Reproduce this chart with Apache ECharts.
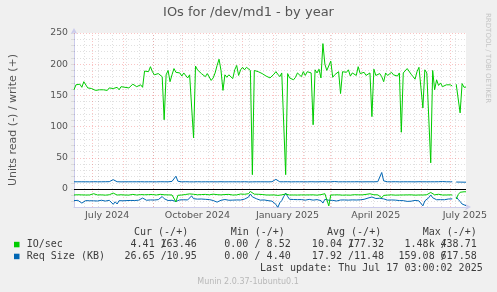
<!DOCTYPE html>
<html><head><meta charset="utf-8">
<script src="https://cdn.jsdelivr.net/npm/echarts@6/dist/echarts.min.js"></script>
<style>html,body{margin:0;padding:0;background:#f0f0f0}#c{width:497px;height:292px}</style>
</head><body><div id="c"></div>
<script>
// ---- data ----
const startTime = '2024-06-12T03:00:00';
const endTime = '2025-07-17T03:00:00';
const stepDays = 2;
const writeIO = [
159,167,165,168,163,172,175,162,163,161,
159,158,161,159,156,159,157,158,162,163,
161,161,163,159,164,162,163,165,162,161,
168,167,164,166,167,163,189,190,188,196,
188,183,180,185,186,180,111,183,190,172,
183,193,187,187,186,181,186,189,178,183,
186,82,197,191,188,185,182,180,185,187,
174,178,186,198,208,190,158,183,179,183,
181,177,191,198,182,191,195,191,195,192,
190,23,190,189,188,186,185,183,181,180,
178,180,184,188,184,180,186,184,23,185,
178,180,175,179,186,185,180,188,182,188,
190,186,103,191,186,192,178,233,200,190,
188,205,179,183,186,188,153,188,187,187,
191,181,186,183,182,196,185,185,187,182,
184,186,116,192,182,180,185,180,172,186,
182,184,187,183,186,181,186,91,186,187,
193,190,184,180,176,188,195,196,130,191,
186,189,42,190,159,175,166,170,164,165,
167,168,167,165,null,168,165,122,169,163,
163.46];
const writeReq = [
11.6,11.7,11.6,11.5,11.6,11.7,11.6,11.6,11.5,11.6,
11.7,11.6,11.6,11.5,11.6,11.6,11.7,11.6,11.8,12.4,
15.0,12.0,11.7,11.6,11.5,11.6,11.6,11.5,11.6,11.7,
11.6,11.5,11.6,11.6,11.7,11.6,11.5,11.6,11.6,11.7,
11.6,11.6,11.5,11.6,11.7,11.6,11.6,11.5,11.6,11.8,
12.2,13.5,20.5,12.5,11.6,11.5,11.6,11.7,11.6,11.5,
11.6,11.5,11.6,11.7,11.6,11.5,11.6,11.6,11.7,11.6,
11.5,11.6,11.6,11.5,11.6,11.7,11.6,11.5,11.6,11.6,
11.7,11.6,11.5,11.6,11.6,11.5,11.6,11.7,11.6,11.4,
11.2,11.5,11.6,11.6,11.5,11.6,11.7,11.6,11.6,11.5,
11.6,11.7,12.2,15.5,12.3,11.6,11.5,11.6,11.6,11.7,
11.6,11.5,11.6,11.6,11.7,11.6,11.5,11.6,11.6,11.5,
11.6,11.7,11.6,11.5,11.6,11.6,11.7,11.8,11.6,11.5,
11.6,11.6,11.7,12.0,11.6,11.5,11.6,11.6,11.5,11.6,
11.7,11.6,11.5,11.6,11.6,11.7,11.6,11.5,11.6,11.6,
11.5,11.6,11.7,11.6,11.6,11.8,12.5,26.5,13.0,11.7,
11.6,11.5,11.6,11.6,11.7,11.6,11.5,11.6,11.6,11.7,
11.6,11.5,11.6,11.6,11.5,11.6,11.7,11.6,11.6,11.5,
11.6,11.7,11.6,11.5,11.6,11.6,11.7,11.8,12.0,11.7,
11.6,11.5,11.6,11.6,null,11.2,11.0,11.1,11.0,10.95,
10.95];
const readIO = [
9.5,9.8,9.2,9.6,9.4,9.0,9.6,9.3,9.5,8.2,
7.5,8.8,9.5,9.7,9.3,9.6,9.8,9.4,9.2,7.0,
6.5,9.0,9.6,9.5,9.2,9.4,9.6,9.3,9.7,9.1,
8.6,9.4,9.6,9.2,8.9,8.0,9.2,9.5,9.0,9.3,
8.8,9.4,9.6,9.2,8.5,7.5,9.2,9.6,9.4,9.1,
9.5,10.5,20.5,10.0,9.3,9.6,9.0,8.7,9.4,7.8,
6.5,8.4,7.0,9.2,6.8,8.9,6.2,8.6,7.4,9.3,
6.5,8.2,7.2,9.0,7.6,9.4,6.9,8.8,9.5,8.6,
9.3,9.6,8.5,9.4,9.2,8.0,9.0,8.4,9.2,7.5,
4.0,6.0,8.2,8.8,8.4,9.0,8.8,9.3,9.5,9.2,
9.6,9.8,9.4,9.9,10.2,9.6,9.3,9.5,8.0,9.4,
9.6,9.2,9.5,9.8,9.6,9.0,9.4,9.7,9.5,9.1,
9.4,9.6,9.3,9.5,9.8,9.4,9.0,8.2,7.5,6.8,
27.0,9.6,9.2,9.4,9.7,9.3,9.5,9.8,9.2,9.6,
9.4,9.8,9.5,9.1,9.6,9.3,9.8,9.4,9.0,8.6,
8.1,7.6,8.4,9.2,9.5,9.3,9.6,14.0,10.2,9.4,
9.7,9.5,9.3,9.6,9.8,9.4,9.6,9.2,9.5,9.7,
9.4,9.6,9.3,9.6,9.8,9.4,9.5,9.2,9.6,9.4,
9.1,8.0,5.5,8.6,9.3,9.5,8.4,9.3,9.6,9.4,
9.5,9.6,9.4,9.5,null,16.0,9.0,5.2,4.6,4.4,
4.41];
const readReq = [
18.5,19.0,18.2,19.5,22.5,19.8,18.6,18.2,18.8,17.5,
18.9,18.4,19.2,18.6,18.0,18.7,19.3,18.5,18.1,17.0,
24.5,20.5,24.0,18.6,18.2,18.9,17.8,18.5,19.0,18.3,
17.6,18.4,18.8,17.9,16.5,14.5,17.2,18.0,18.6,17.5,
18.2,17.6,18.3,17.0,15.0,12.0,15.5,17.8,18.4,17.6,
18.0,18.5,20.0,18.2,17.4,18.0,17.2,16.8,17.5,15.0,
11.0,15.5,17.0,16.2,17.5,16.0,17.2,16.5,17.8,16.9,
17.5,18.4,19.2,21.0,22.0,18.0,17.2,16.8,17.5,18.0,
17.2,17.8,18.2,17.5,16.8,17.6,17.0,16.2,14.0,13.0,
8.0,12.5,13.5,15.5,17.0,17.8,18.2,17.5,18.0,18.6,
19.0,19.4,20.5,24.5,29.5,22.0,18.5,12.0,6.5,12.0,
16.5,17.2,16.8,17.4,17.0,17.6,16.9,17.2,17.8,17.0,
16.6,17.3,17.8,17.2,17.0,17.5,18.5,22.5,16.5,17.0,
18.0,17.4,18.2,20.0,19.2,18.0,17.6,18.2,17.5,17.2,
17.8,18.2,17.4,17.0,17.6,18.0,17.3,17.8,16.5,15.8,
14.5,13.5,12.8,14.0,15.2,15.0,14.8,14.5,15.8,17.0,
17.8,18.2,17.5,17.0,17.8,18.2,18.5,18.0,18.6,19.2,
19.8,20.2,19.5,18.8,18.2,18.6,19.0,22.0,27.0,19.0,
17.5,14.0,9.5,14.0,16.5,17.2,17.8,17.0,16.8,17.2,
16.5,16.0,16.4,15.8,null,12.5,16.5,20.0,24.0,26.0,
26.65];
const monthStarts = ['2024-07-01','2024-08-01','2024-09-01','2024-10-01','2024-11-01','2024-12-01',
  '2025-01-01','2025-02-01','2025-03-01','2025-04-01','2025-05-01','2025-06-01','2025-07-01'];
const minorGridStart = '2024-06-23';
const minorGridStepDays = 14;
const xLabelDates = ['2024-07-16','2024-10-16','2025-01-16','2025-04-16','2025-07-16'];
const xLabels = ['July 2024','October 2024','January 2025','April 2025','July 2025'];
const yMin = -28.8, yMax = 250;
const yLabels = [0,50,100,150,200,250];
const yMinorStep = 10;
const legendNames = ['IO/sec','Req Size (KB)'];
const legendHeaders = ['Cur (-/+)','Min (-/+)','Avg (-/+)','Max (-/+)'];
const legendValues = [
  [['4.41 /','163.46'],['0.00 /','8.52'],['10.04 /','177.32'],['1.48k /','438.71']],
  [['26.65 /','10.95'],['0.00 /','4.40'],['17.92 /','11.48'],['159.08 /','617.58']]
];
const lastUpdate = 'Last update: Thu Jul 17 03:00:02 2025';
const footer = 'Munin 2.0.37-1ubuntu0.1';
const sideText = 'RRDTOOL / TOBI OETIKER';
const titleText = 'IOs for /dev/md1 - by year';
const yName = 'Units read (-) / write (+)';

// ---- build ----
const ts = s => new Date(s.length === 10 ? s + 'T00:00:00' : s).getTime();
const DAY = 86400000;
const t0 = ts(startTime), t1 = ts(endTime);
const dayOf = s => (ts(s) - t0) / DAY;          // x position in days since start
const xMax = (t1 - t0) / DAY;
const xs = writeIO.map((_, i) => i * stepDays);
const neg = v => (v == null ? null : -v);
const pos = v => v;

const minorX = [];
for (let d = dayOf(minorGridStart); d < xMax; d += minorGridStepDays) minorX.push(d);
const minorY = [];
for (let v = -20; v < yMax; v += yMinorStep) if (v % 50 !== 0) minorY.push(v);
const allY = minorY.concat(yLabels).sort((a,b)=>a-b);
const labelPos = xLabelDates.map(dayOf);

const GREEN = '#00cc00', BLUE = '#0066b3';
const RED_GRID = 'rgba(240,60,60,0.30)', GRAY_GRID = 'rgba(0,0,0,0.12)';

function lineSeries(arr, fn, color) {
  return {
    type: 'line', data: xs.map((x, i) => [x, fn(arr[i])]),
    showSymbol: false, symbol: 'none', connectNulls: false, z: 3,
    lineStyle: { color, width: 1 }, itemStyle: { color },
    emphasis: { disabled: true }, silent: true, animation: false
  };
}

const gridLines = [];
minorX.forEach(d => gridLines.push({ xAxis: d, lineStyle: { color: GRAY_GRID, type: [1, 2], width: 1 } }));
minorY.forEach(v => gridLines.push({ yAxis: v, lineStyle: { color: GRAY_GRID, type: [1, 2], width: 1 } }));
monthStarts.forEach(s => gridLines.push({ xAxis: dayOf(s), lineStyle: { color: RED_GRID, type: [1, 2], width: 1 } }));
yLabels.forEach(v => { if (v !== 0) gridLines.push({ yAxis: v, lineStyle: { color: RED_GRID, type: [1, 2], width: 1 } }); });

const MONO = '10px "DejaVu Sans Mono"';
const TXT = '#3c3c3c';
const graphics = [];
function txt(x, y, text, align, font, fill, extra) {
  graphics.push(Object.assign({
    type: 'text', x, y, silent: true,
    style: { text, font: font || MONO, fill: fill || TXT, textAlign: align || 'left', align: align || 'left',
             textVerticalAlign: 'middle', verticalAlign: 'middle' }
  }, extra || {}));
}
const headerX = [134, 230.7, 327, 422.7];
const firstRight = [166.7, 260.4, 354, 446.7];
const secondRight = [196.7, 290.7, 384, 476.7];
legendHeaders.forEach((h, j) => txt(headerX[j], 232.7, h));
const rowY = [244.3, 256.2];
const rowColors = [GREEN, BLUE];
legendNames.forEach((n, r) => {
  graphics.push({ type: 'rect', silent: true, shape: { x: 14, y: rowY[r] - 2.5, width: 5.5, height: 5.5 },
    style: { fill: rowColors[r] } });
  txt(26.7, rowY[r], n);
  legendValues[r].forEach((pair, j) => {
    txt(firstRight[j], rowY[r], pair[0], 'right');
    txt(secondRight[j], rowY[r], pair[1], 'right');
  });
});
txt(482.7, 268.7, lastUpdate, 'right');
txt(248, 281.5, footer, 'center', '8px "DejaVu Sans"', '#b8b8b8');
txt(488, 13, sideText, 'left', '7px "DejaVu Sans"', '#c4c4c4', { rotation: -Math.PI / 2 });

const AXIS = '#ccccec';
const chart = echarts.init(document.getElementById('c'), null, { renderer: 'canvas' });
chart.setOption({
  backgroundColor: '#f0f0f0',
  animation: false,
  title: { text: titleText, left: 'center', top: 6, padding: 0,
    textStyle: { fontSize: 13, fontWeight: 'normal', color: '#555', fontFamily: 'DejaVu Sans' } },
  grid: { left: 66, top: 33, width: 400, height: 174, show: true, backgroundColor: '#ffffff', borderWidth: 0 },
  xAxis: {
    type: 'value', min: 0, max: xMax,
    axisLine: { show: true, onZero: false, lineStyle: { color: AXIS, width: 1 },
      symbol: ['none', 'arrow'], symbolSize: [5, 6], symbolOffset: [0, 5] },
    axisTick: { show: false },
    splitLine: { show: false },
    axisLabel: { customValues: labelPos, margin: 4, fontSize: 9.5, color: '#555', fontFamily: 'DejaVu Sans',
      formatter: (v) => { let k = 0, best = 1e9; labelPos.forEach((p, i) => { if (Math.abs(p - v) < best) { best = Math.abs(p - v); k = i; } }); return xLabels[k]; } }
  },
  yAxis: {
    type: 'value', min: yMin, max: yMax,
    name: yName, nameLocation: 'middle', nameGap: 55, nameRotate: 90,
    nameTextStyle: { fontSize: 11, color: '#555', fontFamily: 'DejaVu Sans' },
    axisLine: { show: true, onZero: false, lineStyle: { color: AXIS, width: 1 },
      symbol: ['none', 'arrow'], symbolSize: [5, 6], symbolOffset: [0, 5] },
    axisTick: { show: true, customValues: allY, length: 3, lineStyle: { color: '#dcdcdc' } },
    splitLine: { show: false },
    axisLabel: { customValues: yLabels, margin: 6, fontSize: 9.3, color: '#555', fontFamily: 'DejaVu Sans' }
  },
  series: [
    { type: 'line', data: [], silent: true, z: 1,
      markLine: { silent: true, z: 1, symbol: ['none', 'none'], label: { show: false }, animation: false,
        emphasis: { disabled: true }, data: gridLines } },
    lineSeries(readReq, neg, BLUE),
    lineSeries(readIO, neg, GREEN),
    lineSeries(writeReq, pos, BLUE),
    lineSeries(writeIO, pos, GREEN),
    { type: 'line', data: [], silent: true, z: 4,
      markLine: { silent: true, z: 6, symbol: ['none', 'none'], label: { show: false }, animation: false,
        emphasis: { disabled: true }, data: [{ yAxis: 0, lineStyle: { color: '#000', type: 'solid', width: 1 } }] } }
  ],
  graphic: { elements: graphics }
});
</script></body></html>
